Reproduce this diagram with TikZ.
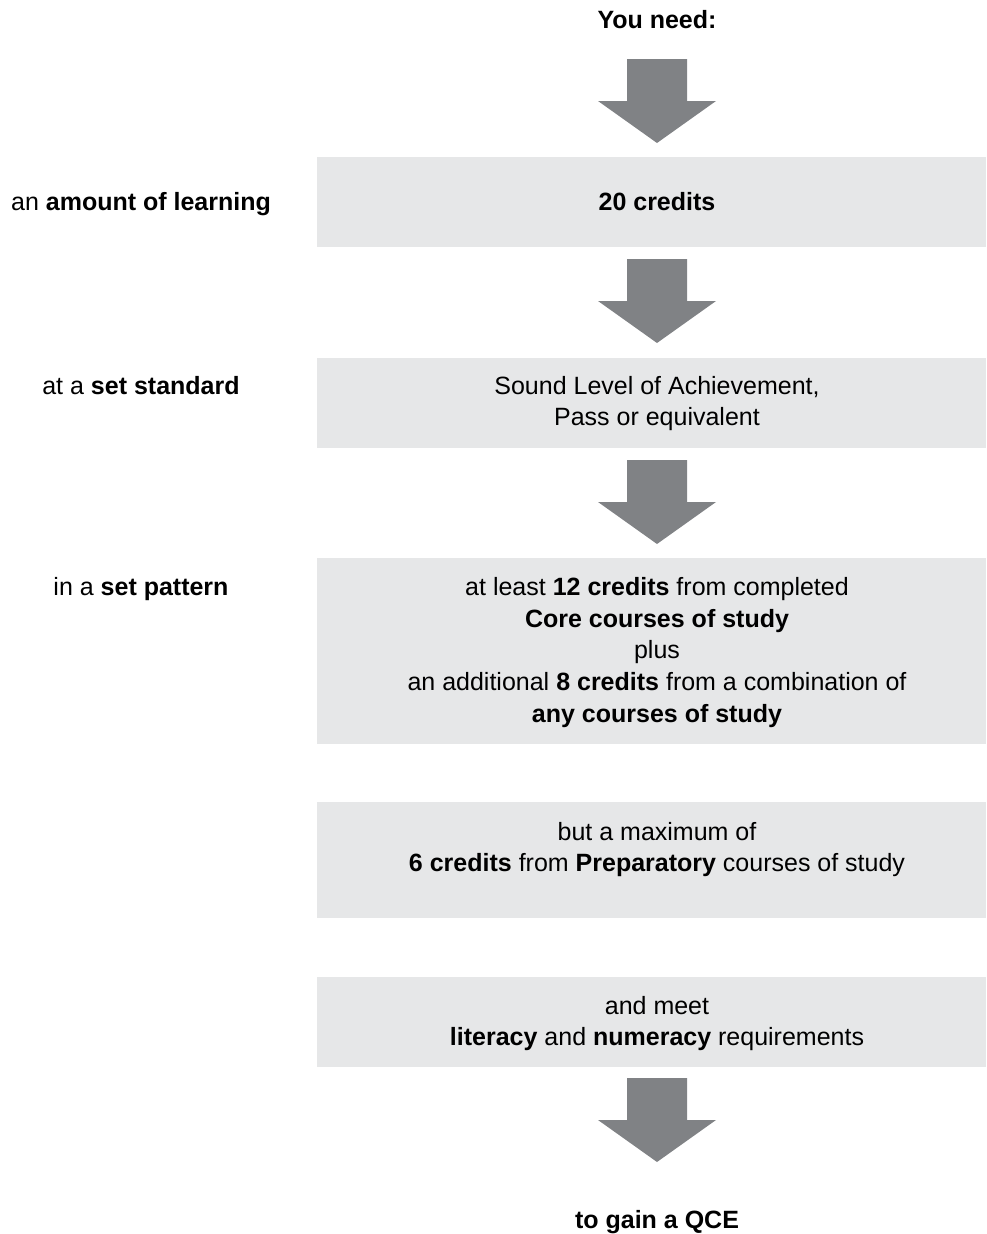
\documentclass[tikz,border=0pt]{standalone}
\usepackage{fontspec}
\setmainfont{Liberation Sans}
\definecolor{boxgray}{HTML}{E6E7E8}
\definecolor{arrowgray}{HTML}{808285}
\tikzset{
  panel/.style={fill=boxgray, draw=none, inner sep=0pt, outer sep=0pt, minimum width=669pt, anchor=north west},
  txt/.style={font=\fontsize{25}{31}\selectfont, inner sep=0pt, anchor=base},
  blockarrow/.pic={\fill[arrowgray] (-30,0) -- (30,0) -- (30,42) -- (59,42) -- (0,84) -- (-59,42) -- (-30,42) -- cycle;}
}
\begin{document}
\begin{tikzpicture}[x=1pt,y=-1pt]
\useasboundingbox (0,0) rectangle (986,1234);
% boxes
\node[panel, minimum height=90pt]  (b1) at (317,157) {};
\node[panel, minimum height=90pt]  (b2) at (317,358) {};
\node[panel, minimum height=186pt] (b3) at (317,558) {};
\node[panel, minimum height=116pt] (b4) at (317,802) {};
\node[panel, minimum height=90pt]  (b5) at (317,977) {};
% arrows
\coordinate (a1) at (657,59);
\coordinate (a2) at (657,259);
\coordinate (a3) at (657,460);
\coordinate (a4) at (657,1078);
\pic at (a1) {blockarrow};
\pic at (a2) {blockarrow};
\pic at (a3) {blockarrow};
\pic at (a4) {blockarrow};
% top and bottom
\node[txt] (top) at (657,28) {\textbf{You need:}};
\node[txt] (end) at (657,1228) {\textbf{to gain a QCE}};
% left labels
\node[txt] (l1) at (141,210) {an \textbf{amount of learning}};
\node[txt] (l2) at (141,394) {at a \textbf{set standard}};
\node[txt] (l3) at (141,595) {in a \textbf{set pattern}};
% box texts
\node[txt] (t1) at (657,210) {\textbf{20 credits}};
\node[txt] (t2a) at (657,394) {Sound Level of Achievement,};
\node[txt] (t2b) at (657,425) {Pass or equivalent};
\node[txt] (t3a) at (657,595) {at least \textbf{12 credits} from completed};
\node[txt] (t3b) at (657,627) {\textbf{Core courses of study}};
\node[txt] (t3c) at (657,658) {plus};
\node[txt] (t3d) at (657,690) {an additional \textbf{8 credits} from a combination of};
\node[txt] (t3e) at (657,722) {\textbf{any courses of study}};
\node[txt] (t4a) at (657,840) {but a maximum of};
\node[txt] (t4b) at (657,871) {\textbf{6 credits} from \textbf{Preparatory} courses of study};
\node[txt] (t5a) at (657,1014) {and meet};
\node[txt] (t5b) at (657,1045) {\textbf{literacy} and \textbf{numeracy} requirements};
\end{tikzpicture}
\end{document}
